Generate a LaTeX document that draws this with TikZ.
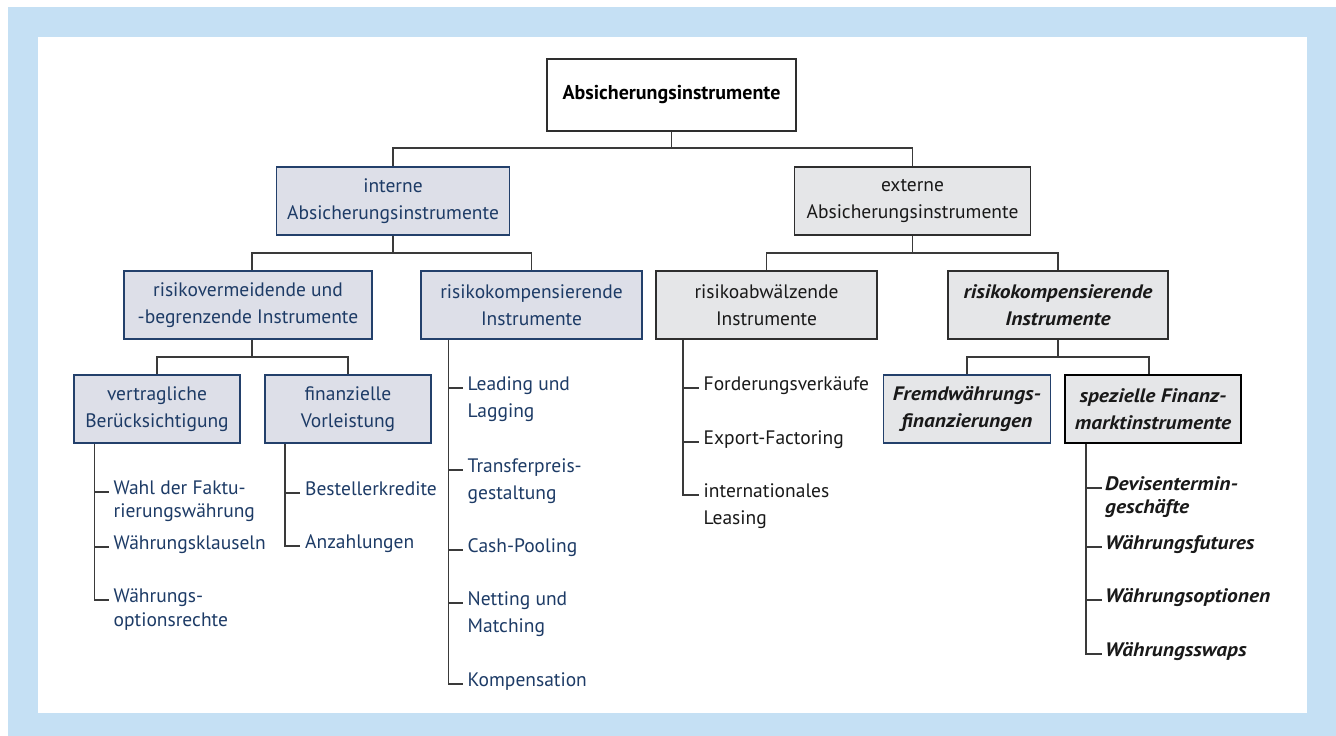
\documentclass[tikz,border=0pt]{standalone}
\usepackage{fontspec}
\setmainfont{PT Sans}
\newfontfamily\bifam{PT Sans}[FakeStretch=1.1]
\usetikzlibrary{calc}
\definecolor{bgblue}{HTML}{C5E0F4}
\definecolor{intfill}{HTML}{DDDFE8}
\definecolor{intdraw}{HTML}{23406B}
\definecolor{inttext}{HTML}{1D3B66}
\definecolor{extfill}{HTML}{E5E6E8}
\definecolor{extdraw}{HTML}{2E2E2E}
\definecolor{lineg}{HTML}{3A3A3A}
\newcommand\ml[1]{\begin{tabular}[t]{@{}l@{}}#1\end{tabular}}
\begin{document}
\begin{tikzpicture}[x=1pt,y=-1pt,
  every node/.style={font=\fontsize{19.5}{27}\selectfont},
  box/.style={draw, line width=1.1pt, align=center, inner sep=2pt},
  topbox/.style={box, fill=white, draw=extdraw, text=black, font=\fontsize{20}{27}\selectfont\bfseries},
  intbox/.style={box, fill=intfill, draw=intdraw, text=inttext},
  extbox/.style={box, fill=extfill, draw=extdraw, text=black!90},
  extbi/.style={extbox, font=\bifam\fontsize{19.5}{27}\selectfont\bfseries\itshape},
  conn/.style={draw=lineg, line width=1.1pt},
  intitem/.style={anchor=mid west, inner sep=0pt, text=inttext},
  extitem/.style={anchor=mid west, inner sep=0pt, text=black!90},
  extbiitem/.style={extitem, font=\bifam\fontsize{19.5}{27}\selectfont\bfseries\itshape}
]
\useasboundingbox (0,0) rectangle (1336,736);
\fill[bgblue] (8,7) rectangle (1336,736);
\fill[white] (38,37) rectangle (1307,713);

% boxes
\node[topbox, minimum width=249pt, minimum height=72pt] (top) at (671.5,95) {Absicherungsinstrumente};
\node[intbox, minimum width=233pt, minimum height=68pt] (int) at (393,201) {interne\\Absicherungsinstrumente};
\node[extbox, minimum width=236pt, minimum height=68pt] (ext) at (912.5,201) {externe\\Absicherungsinstrumente};
\node[intbox, minimum width=248pt, minimum height=68pt] (rv) at (248,305) {risikovermeidende und\\-begrenzende Instrumente};
\node[intbox, minimum width=221pt, minimum height=68pt] (rki) at (531.5,305) {risikokompensierende\\Instrumente};
\node[extbox, minimum width=221pt, minimum height=68pt] (ra) at (766.5,305) {risikoabwälzende\\Instrumente};
\node[extbi, minimum width=220pt, minimum height=68pt] (rke) at (1058,305) {risikokompensierende\\Instrumente};
\node[intbox, minimum width=166pt, minimum height=68pt] (vb) at (157,409) {vertragliche\\Berücksichtigung};
\node[intbox, minimum width=166pt, minimum height=68pt] (fv) at (348,409) {finanzielle\\Vorleistung};
\node[extbi, draw=intdraw, minimum width=167pt, minimum height=68pt] (fw) at (967,409) {Fremdwährungs-\\finanzierungen};
\node[extbi, draw=black, minimum width=176pt, minimum height=68pt] (sf) at (1153,409) {spezielle Finanz-\\marktinstrumente};

% tree connectors
\coordinate (j0) at (671.5,148);
\coordinate (j1) at (393,253);
\coordinate (j2) at (252,357);
\coordinate (j3) at (912.5,253);
\coordinate (j4) at (1058,357);
\draw[conn] (top) -- (j0);
\draw[conn] (int.north) |- (j0) -| (ext.north);
\draw[conn] (int) -- (j1);
\draw[conn] (rv.north -| 252,0) |- (j1) -| (rki.north);
\draw[conn] (rv.south -| j2) -- (j2);
\draw[conn] (vb.north) |- (j2) -| (fv.north);
\draw[conn] (ext) -- (j3);
\draw[conn] (ra.north) |- (j3) -| (rke.north);
\draw[conn] (rke) -- (j4);
\draw[conn] (fw.north) |- (j4) -| (sf.north -| 1149,0);

% list items
\node[intitem] (w1) at (113.5,492) {\ml{Wahl der Faktu-\\[-4pt]rierungswährung}};
\node[intitem] (w2) at (113.5,547) {Währungsklauseln};
\node[intitem] (w3) at (113.5,600) {\ml{Währungs-\\[-3pt]optionsrechte}};
\node[intitem] (b1) at (305,493) {Bestellerkredite};
\node[intitem] (b2) at (305,546) {Anzahlungen};
\node[intitem] (l1) at (467.5,388) {\ml{Leading und\\Lagging}};
\node[intitem] (l2) at (467.5,470) {\ml{Transferpreis-\\gestaltung}};
\node[intitem] (l3) at (467.5,550) {Cash-Pooling};
\node[intitem] (l4) at (467.5,603) {\ml{Netting und\\Matching}};
\node[intitem] (l5) at (467.5,684) {Kompensation};
\node[extitem] (f1) at (703.5,388) {Forderungsverkäufe};
\node[extitem] (f2) at (703.5,442) {Export-Factoring};
\node[extitem] (f3) at (703.5,495) {\ml{internationales\\Leasing}};
\node[extbiitem] (d1) at (1105,488) {\ml{Devisentermin-\\[-4pt]geschäfte}};
\node[extbiitem] (d2) at (1105,547) {Währungsfutures};
\node[extbiitem] (d3) at (1105,600) {Währungsoptionen};
\node[extbiitem] (d4) at (1105,654) {Währungsswaps};

% list connectors
\coordinate (vbx) at (94.5,0);
\coordinate (fvx) at (285,0);
\coordinate (rkx) at (448.5,0);
\coordinate (rax) at (683,0);
\coordinate (sfx) at (1086,0);
\draw[conn] (vb.south -| vbx) |- ([xshift=-5pt]w3.mid west);
\draw[conn] (vbx |- w1.mid west) -- ([xshift=-5pt]w1.mid west);
\draw[conn] (vbx |- w2.mid west) -- ([xshift=-5pt]w2.mid west);
\draw[conn] (fv.south -| fvx) |- ([xshift=-5pt]b2.mid west);
\draw[conn] (fvx |- b1.mid west) -- ([xshift=-5pt]b1.mid west);
\draw[conn] (rki.south -| rkx) |- ([xshift=-5pt]l5.mid west);
\foreach \n in {l1,l2,l3,l4}{\draw[conn] (rkx |- \n.mid west) -- ([xshift=-5pt]\n.mid west);}
\draw[conn] (ra.south -| rax) |- ([xshift=-5pt]f3.mid west);
\foreach \n in {f1,f2}{\draw[conn] (rax |- \n.mid west) -- ([xshift=-5pt]\n.mid west);}
\draw[conn] (sf.south -| sfx) |- ([xshift=-3pt]d4.mid west);
\foreach \n in {d1,d2,d3}{\draw[conn] (sfx |- \n.mid west) -- ([xshift=-3pt]\n.mid west);}
\end{tikzpicture}
\end{document}
